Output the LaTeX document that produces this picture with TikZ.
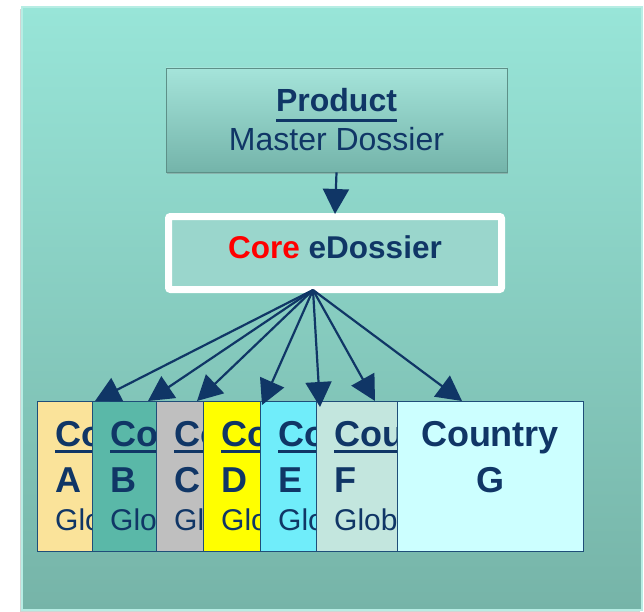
\documentclass[tikz,border=0pt]{standalone}
\usepackage{fontspec}
\setmainfont{Liberation Sans}
\usepackage{xcolor}
\usepackage{tikz}
\usetikzlibrary{arrows.meta,shadows}

\definecolor{navy}{RGB}{16,54,102}
\definecolor{edgeblue}{RGB}{31,78,121}
\definecolor{panelTop}{RGB}{152,229,216}
\definecolor{panelBot}{RGB}{118,180,168}
\definecolor{prodTop}{RGB}{165,228,218}
\definecolor{prodBot}{RGB}{116,180,170}
\definecolor{coreFill}{RGB}{154,214,204}
\definecolor{cA}{RGB}{250,227,154}
\definecolor{cB}{RGB}{90,184,168}
\definecolor{cC}{RGB}{191,191,191}
\definecolor{cD}{RGB}{255,255,0}
\definecolor{cE}{RGB}{112,237,250}
\definecolor{cF}{RGB}{195,230,222}
\definecolor{cG}{RGB}{204,255,255}

\newsavebox\undlbox
\newcommand\undl[2][-9bp]{\sbox\undlbox{#2}\rlap{\rule[#1]{\wd\undlbox}{2.6bp}}\usebox\undlbox}

\begin{document}
\begin{tikzpicture}[x=1bp, y=-1bp,
panel/.style={minimum width=620bp, minimum height=603bp, top color=panelTop, bottom color=panelBot,
  draw=panelTop!70!white, line width=1.5bp, drop shadow={shadow xshift=-2bp, shadow yshift=-2bp, opacity=0.35}},
prodbox/.style={minimum width=341bp, minimum height=104bp, top color=prodTop, bottom color=prodBot,
  draw=prodBot!80!black, line width=0.8bp, drop shadow={shadow xshift=1bp, shadow yshift=-2bp, opacity=0.4},
  text=navy, align=center, font=\fontsize{32bp}{39bp}\selectfont},
corebox/.style={minimum width=333bp, minimum height=73bp, fill=coreFill, draw=white, line width=7bp,
  rounded corners=2bp, drop shadow={shadow xshift=0bp, shadow yshift=-3bp, opacity=0.35},
  text=navy, font=\bfseries\fontsize{31.5bp}{38bp}\selectfont, text height=23bp, text depth=12bp},
cbox/.style={minimum width=186bp, minimum height=150bp, draw=edgeblue, line width=1.2bp, anchor=north west},
ctitle/.style={inner sep=0pt, text=navy, font=\bfseries\fontsize{36bp}{42bp}\selectfont},
cglobal/.style={inner sep=0pt, text=navy, font=\fontsize{30bp}{36bp}\selectfont},
link/.style={draw=navy, line width=2.2bp, -{Triangle[length=25bp, width=26bp]}}]

\useasboundingbox (0,0) rectangle (644,612);

% background panel
\node[panel] (panel) at (332,308.5) {};

% product and core dossier
\node[prodbox] (prod) at (336.5,120) {\undl[-10bp]{\textbf{Product}}\\Master Dossier};
\node[corebox] (core) at (335,253) {\textcolor{red}{Core} eDossier};
\coordinate (hub) at ([xshift=-22bp, yshift=3bp]core.south);

% country dossiers, each one laid over the one before
\foreach \k/\x/\c in {A/37/cA, B/92/cB, C/156/cC, D/203/cD, E/260/cE, F/316/cF}{
  \node[cbox, fill=\c] (box\k) at (\x,401) {};
  \node[ctitle, anchor=base west] (title\k) at (\x+18,446) {\undl[-6.5bp]{Country}};
  \node[ctitle, anchor=base west] (letter\k) at (\x+18,492) {\k};
  \node[cglobal, anchor=base west] (global\k) at (\x+18,530) {Global};
}
\node[cbox, fill=cG] (boxG) at (397,401) {};
\node[ctitle, anchor=base] (titleG) at (490,446) {Country};
\node[ctitle, anchor=base] (letterG) at (490,492) {G};

% links
\draw[link] (prod.south) -- ([yshift=-1bp]core.north);
\draw[link] (hub) -- ([xshift=58bp]boxA.north west);
\draw[link] (hub) -- ([xshift=56bp]boxB.north west);
\draw[link] (hub) -- ([xshift=41bp]boxC.north west);
\draw[link] (hub) -- ([xshift=59bp, yshift=-4bp]boxD.north west);
\draw[link] (hub) -- ([xshift=4bp, yshift=-6bp]boxF.north west);
\draw[link] (hub) -- ([xshift=59bp]boxF.north west);
\draw[link] (hub) -- ([xshift=65bp]boxG.north west);
\end{tikzpicture}
\end{document}
